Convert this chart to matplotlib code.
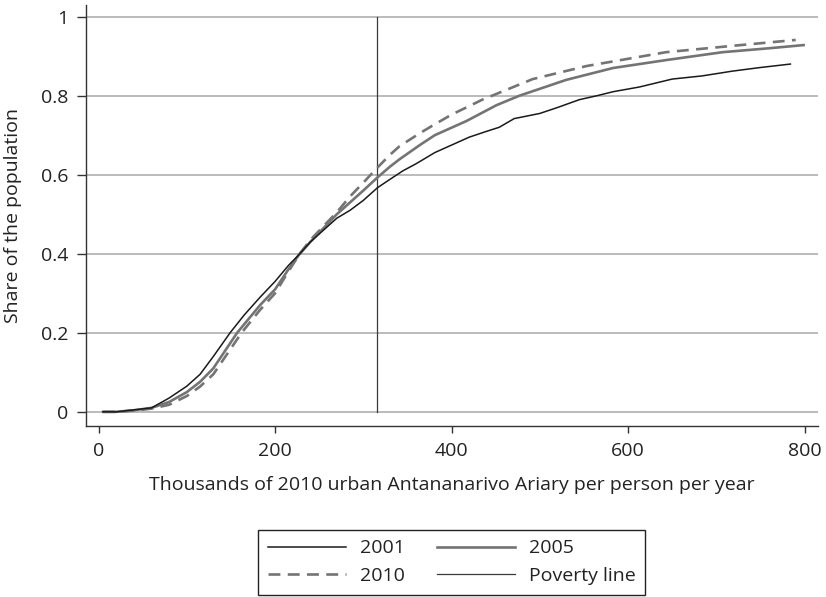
import matplotlib.pyplot as plt

plt.rcParams['font.family'] = ['Open Sans', 'DejaVu Sans']

# cumulative distribution of consumption, thousands of Ariary per person per year
x_2001 = [5, 20, 40, 60, 80, 100, 115, 130, 149, 165, 183, 200, 215, 228, 240, 255, 270,
          285, 300, 316, 330, 345, 360, 381, 400, 420, 440, 454, 471, 500, 520, 545, 565,
          583, 613, 650, 684, 718, 749, 784]
share_2001 = [0.0, 0.0, 0.005, 0.01, 0.035, 0.065, 0.095, 0.14, 0.2, 0.245, 0.29, 0.33, 0.37,
              0.4, 0.43, 0.46, 0.49, 0.51, 0.535, 0.567, 0.588, 0.61, 0.628, 0.656, 0.675,
              0.695, 0.71, 0.72, 0.742, 0.755, 0.77, 0.79, 0.80, 0.81, 0.822, 0.842, 0.85,
              0.862, 0.871, 0.88]

x_2005 = [5, 20, 40, 60, 80, 100, 115, 130, 157, 183, 200, 215, 228, 240, 255, 270, 285,
          300, 316, 330, 341, 364, 381, 417, 451, 477, 530, 583, 643, 707, 760, 799]
share_2005 = [0.0, 0.0, 0.004, 0.01, 0.025, 0.05, 0.076, 0.11, 0.2, 0.27, 0.31, 0.36, 0.4,
              0.43, 0.465, 0.5, 0.53, 0.56, 0.593, 0.62, 0.639, 0.675, 0.70, 0.736, 0.776,
              0.80, 0.84, 0.87, 0.89, 0.91, 0.92, 0.928]

x_2010 = [5, 20, 40, 60, 80, 100, 115, 130, 162, 183, 200, 215, 228, 240, 255, 270, 285,
          300, 316, 330, 341, 364, 379, 400, 435, 492, 553, 643, 718, 790]
share_2010 = [0.0, 0.0, 0.003, 0.008, 0.018, 0.04, 0.064, 0.095, 0.2, 0.258, 0.30, 0.355,
              0.4, 0.435, 0.47, 0.505, 0.545, 0.58, 0.618, 0.65, 0.672, 0.705, 0.725, 0.752,
              0.79, 0.842, 0.875, 0.91, 0.926, 0.941]

poverty_line = 316

xticks = [0, 200, 400, 600, 800]
yticks = [0, 0.2, 0.4, 0.6, 0.8, 1]
yticklabels = ['0', '0.2', '0.4', '0.6', '0.8', '1']

fig = plt.figure(figsize=(8.26, 5.97), dpi=100)
ax = fig.add_axes([0.104, 0.287, 0.886, 0.705])

for y in yticks:
    ax.axhline(y, color='#a8a8a8', lw=1.1, zorder=1)

l1, = ax.plot(x_2001, share_2001, color='#1a1a1a', lw=1.1, zorder=4)
l2, = ax.plot(x_2005, share_2005, color='#747474', lw=1.9, zorder=3)
l3, = ax.plot(x_2010, share_2010, color='#747474', lw=1.9, ls=(0, (4.5, 2.8)), zorder=3)
l4, = ax.plot([poverty_line, poverty_line], [0, 1], color='#3a3a3a', lw=0.9, zorder=2)

ax.set_xlim(-14.4, 815)
ax.set_ylim(-0.035, 1.03)
ax.set_xticks(xticks)
ax.set_yticks(yticks)
ax.set_yticklabels(yticklabels)

for side in ['top', 'right']:
    ax.spines[side].set_visible(False)
for side in ['left', 'bottom']:
    ax.spines[side].set_color('#333333')
    ax.spines[side].set_linewidth(1.0)
ax.tick_params(direction='out', width=1.0, color='#333333',
               labelsize=14, labelcolor='#222222')
ax.tick_params(axis='x', length=5, pad=7)
ax.tick_params(axis='y', length=6.5, pad=6)

ax.set_xlabel('Thousands of 2010 urban Antananarivo Ariary per person per year',
              fontsize=14, color='#222222', labelpad=11)
ax.set_ylabel('Share of the population', fontsize=14, color='#222222', labelpad=14)

# legend filled column by column, so order handles to read row by row
leg = fig.legend([l1, l3, l2, l4], ['2001', '2010', '2005', 'Poverty line'],
                 ncol=2, loc='lower center', bbox_to_anchor=(0.547, 0.0035),
                 fontsize=14, handlelength=4.0, columnspacing=1.65,
                 handletextpad=0.72, labelspacing=0.5, fancybox=False,
                 edgecolor='#222222', framealpha=1, borderpad=0.5,
                 borderaxespad=0)
leg.get_frame().set_linewidth(1.0)
for t in leg.get_texts():
    t.set_color('#222222')

fig.savefig('out.png', dpi=100)
